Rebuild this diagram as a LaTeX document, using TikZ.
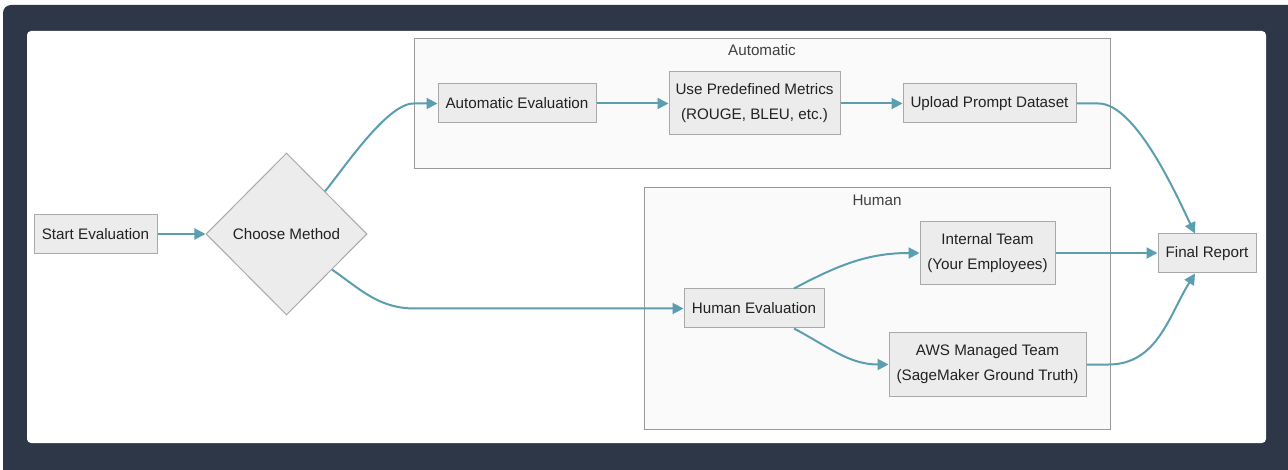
\documentclass[tikz,border=0pt]{standalone}
\usepackage{fontspec}
\setmainfont{Liberation Sans}
\usepackage{tikz}
\usetikzlibrary{arrows.meta,positioning,shapes.geometric}
\definecolor{frameblue}{HTML}{2D3748}
\definecolor{flowteal}{HTML}{5A9EAF}
\definecolor{boxgray}{HTML}{ECECEC}
\definecolor{edgegray}{HTML}{A9A9A9}
\definecolor{groupgray}{HTML}{FAFAFA}
\definecolor{groupline}{HTML}{999999}
\definecolor{textgray}{HTML}{222222}

\begin{document}
\begin{tikzpicture}[
  x=1pt, y=1pt,
  box/.style={draw=edgegray, line width=1pt, fill=boxgray, minimum height=39pt, align=center, inner sep=0pt, text=textgray, font=\fontsize{15.2}{25}\selectfont},
  tallbox/.style={box, minimum height=63pt},
  choice/.style={diamond, draw=edgegray, line width=1pt, fill=boxgray, minimum width=161pt, minimum height=162pt, inner sep=0pt, text=textgray, font=\fontsize{15.2}{18}\selectfont},
  group/.style={draw=groupline, line width=1pt, fill=groupgray},
  grouplabel/.style={text=black!75, font=\fontsize{15.2}{18}\selectfont},
  arr/.style={-{Triangle[length=11pt,width=11pt]}, line width=2pt, draw=flowteal}
]
\useasboundingbox (0,0) rectangle (1288,-470);
% frame
\fill[frameblue] (3,-470) [rounded corners=8pt] -- (3,-5) [sharp corners] -- (1288,-5) -- (1288,-470) -- cycle;
\fill[white, rounded corners=4pt] (27,-31) rectangle (1266,-443);
% groups
\draw[group] (414,-39) rectangle (1110,-169);
\node[grouplabel] (autolbl) at (762,-50) {Automatic};
\draw[group] (644,-188) rectangle (1110,-429);
\node[grouplabel] (humanlbl) at (877,-200) {Human};
% nodes
\node[box, minimum width=123pt] (start) at (95.5,-234) {Start Evaluation};
\node[choice, right=48pt of start] (choose) {Choose Method};
\node[box, minimum width=158pt] (autoeval) at (517,-103.5) {Automatic Evaluation};
\node[tallbox, minimum width=171pt, right=72pt of autoeval] (metrics) {Use Predefined Metrics\\(ROUGE, BLEU, etc.)};
\node[box, minimum width=173pt, right=62pt of metrics] (upload) {Upload Prompt Dataset};
\node[box, minimum width=140pt] (humaneval) at (754,-308.5) {Human Evaluation};
\node[tallbox, minimum width=135pt] (internal) at (987.5,-253) {Internal Team\\(Your Employees)};
\node[tallbox, minimum width=197pt] (aws) at (987.5,-364.5) {AWS Managed Team\\(SageMaker Ground Truth)};
\node[box, minimum width=98pt] (report) at (1207,-253.5) {Final Report};
\coordinate (humanbend) at (415,-308.5);
% edges
\draw[arr] (start) -- (choose);
\draw[arr] (choose.48) to[out=50, in=180, looseness=0.55] ([xshift=-24pt]autoeval.west) -- (autoeval.west);
\draw[arr] (choose.-38) to[out=-35, in=180] (humanbend) -- (humaneval.west);
\draw[arr] (autoeval) -- (metrics);
\draw[arr] (metrics) -- (upload);
\draw[arr] (upload.east) -- ++(22,0) to[out=0, in=116, looseness=0.6] ([xshift=-12pt]report.north);
\draw[arr] ([xshift=40pt]humaneval.north) to[out=28, in=180] (internal.west);
\draw[arr] ([xshift=40pt]humaneval.south) to[out=-28, in=180] (aws.west);
\draw[arr] (internal.east) -- (internal.east -| report.west);
\draw[arr] (aws.east) -- ++(22,0) to[out=0, in=-122] ([xshift=-12pt]report.south);
\end{tikzpicture}
\end{document}
